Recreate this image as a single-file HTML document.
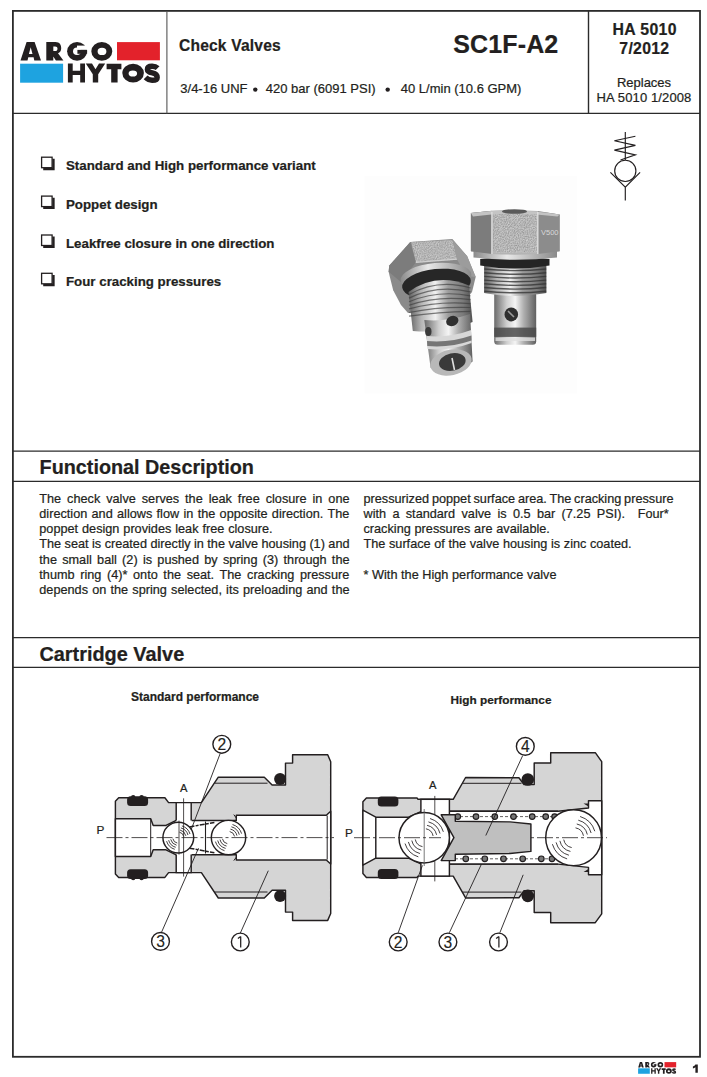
<!DOCTYPE html>
<html><head><meta charset="utf-8"><style>
html,body{margin:0;padding:0;background:#fff;}
body{width:707px;height:1077px;overflow:hidden;position:relative;}
svg{position:absolute;left:0;top:0;}
text{font-family:"Liberation Sans",sans-serif;fill:#231f20;stroke:#231f20;stroke-width:0.22px;}
.b{font-weight:bold;}
</style></head><body>
<svg width="707" height="1077" viewBox="0 0 707 1077">

<g fill="none" stroke="#2b2b2b">
<rect x="12.9" y="10.9" width="687.1" height="1045.9" stroke-width="1.8"/>
<line x1="12.9" y1="113.4" x2="700" y2="113.4" stroke-width="1.4"/>
<line x1="166.9" y1="10.9" x2="166.9" y2="113.4" stroke-width="1.1" stroke="#555"/>
<line x1="588.5" y1="10.9" x2="588.5" y2="113.4" stroke-width="1.4"/>
<line x1="12.9" y1="451.2" x2="700" y2="451.2" stroke-width="1.3"/>
<line x1="12.9" y1="481.4" x2="700" y2="481.4" stroke-width="1.3"/>
<line x1="12.9" y1="637.6" x2="700" y2="637.6" stroke-width="1.3"/>
<line x1="12.9" y1="667.3" x2="700" y2="667.3" stroke-width="1.3"/>
</g>
<text class="b" x="179" y="51" font-size="15.6" letter-spacing="0.18">Check Valves</text>
<text class="b" x="453.2" y="53" font-size="25" letter-spacing="0.15">SC1F-A2</text>
<text x="180.3" y="93.3" font-size="13">3/4-16 UNF</text>
<circle cx="255.3" cy="89.6" r="2.2" fill="#231f20"/>
<text x="265.8" y="93.3" font-size="13">420 bar (6091 PSI)</text>
<circle cx="387.7" cy="89.6" r="2.2" fill="#231f20"/>
<text x="400.8" y="93.3" font-size="13">40 L/min (10.6 GPM)</text>
<text class="b" x="644.7" y="34.8" font-size="15.8" text-anchor="middle" letter-spacing="0.35">HA 5010</text>
<text class="b" x="644.4" y="53.6" font-size="15.8" text-anchor="middle" letter-spacing="0.3">7/2012</text>
<text x="644" y="86.9" font-size="13" text-anchor="middle">Replaces</text>
<text x="644" y="102.4" font-size="13" text-anchor="middle" letter-spacing="0.12">HA 5010 1/2008</text>
<text class="b" x="66" y="169.90" font-size="13.3">Standard and High performance variant</text>
<g fill="none" stroke="#231f20"><rect x="41.60" y="157.20" width="10.5" height="10.5" stroke-width="1.3"/><path d="M43.20 169.00 H53.50 V158.80" stroke-width="2.3"/></g>
<text class="b" x="66" y="208.80" font-size="13.3">Poppet design</text>
<g fill="none" stroke="#231f20"><rect x="41.60" y="196.10" width="10.5" height="10.5" stroke-width="1.3"/><path d="M43.20 207.90 H53.50 V197.70" stroke-width="2.3"/></g>
<text class="b" x="66" y="247.70" font-size="13.3">Leakfree closure in one direction</text>
<g fill="none" stroke="#231f20"><rect x="41.60" y="235.00" width="10.5" height="10.5" stroke-width="1.3"/><path d="M43.20 246.80 H53.50 V236.60" stroke-width="2.3"/></g>
<text class="b" x="66" y="286.00" font-size="13.3">Four cracking pressures</text>
<g fill="none" stroke="#231f20"><rect x="41.60" y="273.30" width="10.5" height="10.5" stroke-width="1.3"/><path d="M43.20 285.10 H53.50 V274.90" stroke-width="2.3"/></g>
<text class="b" x="39.6" y="474" font-size="19.8">Functional Description</text>
<text class="b" x="39.4" y="661" font-size="19.9">Cartridge Valve</text>
<g font-size="12.7">
<text x="39.3" y="502.70" word-spacing="2.418" xml:space="preserve">The check valve serves the leak free closure in one</text>
<text x="39.3" y="517.90" word-spacing="0.779" xml:space="preserve">direction and allows flow in the opposite direction. The</text>
<text x="39.3" y="533.10" word-spacing="0.4">poppet design provides leak free closure.</text>
<text x="39.3" y="548.30" word-spacing="-0.081" xml:space="preserve">The seat is created directly in the valve housing (1) and</text>
<text x="39.3" y="563.50" word-spacing="1.753" xml:space="preserve">the small ball (2) is pushed by spring (3) through the</text>
<text x="39.3" y="578.70" word-spacing="2.104" xml:space="preserve">thumb ring (4)* onto the seat. The cracking pressure</text>
<text x="39.3" y="593.90" word-spacing="0.685" xml:space="preserve">depends on the spring selected, its preloading and the</text>
<text x="363.5" y="502.70" word-spacing="-0.722" xml:space="preserve">pressurized poppet surface area. The cracking pressure</text>
<text x="363.5" y="517.90" word-spacing="2.806" xml:space="preserve">with a standard valve is 0.5 bar (7.25 PSI).  Four*</text>
<text x="363.5" y="533.10" word-spacing="0.3">cracking pressures are available.</text>
<text x="363.5" y="548.30" word-spacing="0.1">The surface of the valve housing is zinc coated.</text>
<text x="363.5" y="578.70" word-spacing="0.1">* With the High performance valve</text>
</g>
<text class="b" x="131" y="700.8" font-size="12">Standard performance</text>
<text class="b" x="450.5" y="703.9" font-size="11.8">High performance</text>
<path d="M695.4 1064.4 H697.8 V1072.8 H695.4 V1067.3 Q694.3 1068.2 692.9 1068.4 V1066.6 Q694.8 1065.9 695.4 1064.4 Z" fill="#231f20"/>
<g id="logo">
<rect x="117" y="42.1" width="42.9" height="18.2" fill="#e3222b"/>
<rect x="20.1" y="63.7" width="43" height="19" fill="#1ea3e0"/>
<g fill="#231f20">
<path fill-rule="evenodd" d="M20.5 60.6 L26.6 42.1 H34.6 L41 60.6 H34.3 L33.6 57.3 H28.3 L27.5 60.6 Z M28.9 54 L30.7 47.3 L32.5 54 Z"/>
<path d="M46.3 60.6 V42.1 H55.5 C59.6 42.1 61.2 44.9 61.2 48.2 C61.2 50.7 60 52.5 58 53.3 L63.4 60.6 H55.9 L51.8 54.3 H53.3 V60.6 Z"/>
<path fill="#fff" d="M53.3 46.6 H55.1 C56.6 46.6 57.5 47.4 57.5 48.8 C57.5 50.2 56.6 51.1 55.1 51.1 H53.3 Z"/>
<ellipse cx="77.05" cy="51.3" rx="9.95" ry="9.35"/>
<ellipse cx="77" cy="51.2" rx="4" ry="3.8" fill="#fff"/>
<rect x="77" y="45.6" width="11" height="4.3" fill="#fff"/>
<rect x="77.4" y="49.9" width="9.7" height="3.9"/>
<path fill-rule="evenodd" d="M112.3 51.3 A10.5 9.35 0 1 1 91.3 51.3 A10.5 9.35 0 1 1 112.3 51.3 Z M106.4 51.4 A4.4 3.6 0 1 0 97.6 51.4 A4.4 3.6 0 1 0 106.4 51.4 Z"/>
<path d="M67.9 63.6 H72.7 V70.7 H80.2 V63.6 H85 V82.6 H80.2 V75 H72.7 V82.6 H67.9 Z"/>
<path d="M85.8 63.6 H92 L95.5 69.3 L99 63.6 H105.2 L98.2 74.3 V82.6 H92.8 V74.3 Z"/>
<path d="M106.6 63.7 H121.4 V69.2 H117.6 V82.6 H111.2 V69.2 H106.6 Z"/>
<path fill-rule="evenodd" d="M143.9 73.1 A10.8 9.45 0 1 1 122.3 73.1 A10.8 9.45 0 1 1 143.9 73.1 Z M137.1 73.5 A4.25 3.1 0 1 0 128.6 73.5 A4.25 3.1 0 1 0 137.1 73.5 Z"/>
</g>
<path fill="none" stroke="#231f20" stroke-width="5.4" d="M157.6 68.2 C156 66.6 154.3 66.2 152.1 66.2 C149.2 66.2 147.4 67.4 147.4 69.4 C147.4 71.7 149.6 72.3 152.4 72.9 C155.5 73.6 157.2 74.8 157.2 77.4 C157.2 79.4 155.3 80.2 152.1 80.2 C149.6 80.2 147.6 79.4 145.6 77.4"/>
</g>
<g transform="translate(632.62 1050.00) scale(0.2724 0.2875)"><g>
<rect x="117" y="42.1" width="42.9" height="18.2" fill="#e3222b"/>
<rect x="20.1" y="63.7" width="43" height="19" fill="#1ea3e0"/>
<g fill="#231f20">
<path fill-rule="evenodd" d="M20.5 60.6 L26.6 42.1 H34.6 L41 60.6 H34.3 L33.6 57.3 H28.3 L27.5 60.6 Z M28.9 54 L30.7 47.3 L32.5 54 Z"/>
<path d="M46.3 60.6 V42.1 H55.5 C59.6 42.1 61.2 44.9 61.2 48.2 C61.2 50.7 60 52.5 58 53.3 L63.4 60.6 H55.9 L51.8 54.3 H53.3 V60.6 Z"/>
<path fill="#fff" d="M53.3 46.6 H55.1 C56.6 46.6 57.5 47.4 57.5 48.8 C57.5 50.2 56.6 51.1 55.1 51.1 H53.3 Z"/>
<ellipse cx="77.05" cy="51.3" rx="9.95" ry="9.35"/>
<ellipse cx="77" cy="51.2" rx="4" ry="3.8" fill="#fff"/>
<rect x="77" y="45.6" width="11" height="4.3" fill="#fff"/>
<rect x="77.4" y="49.9" width="9.7" height="3.9"/>
<path fill-rule="evenodd" d="M112.3 51.3 A10.5 9.35 0 1 1 91.3 51.3 A10.5 9.35 0 1 1 112.3 51.3 Z M106.4 51.4 A4.4 3.6 0 1 0 97.6 51.4 A4.4 3.6 0 1 0 106.4 51.4 Z"/>
<path d="M67.9 63.6 H72.7 V70.7 H80.2 V63.6 H85 V82.6 H80.2 V75 H72.7 V82.6 H67.9 Z"/>
<path d="M85.8 63.6 H92 L95.5 69.3 L99 63.6 H105.2 L98.2 74.3 V82.6 H92.8 V74.3 Z"/>
<path d="M106.6 63.7 H121.4 V69.2 H117.6 V82.6 H111.2 V69.2 H106.6 Z"/>
<path fill-rule="evenodd" d="M143.9 73.1 A10.8 9.45 0 1 1 122.3 73.1 A10.8 9.45 0 1 1 143.9 73.1 Z M137.1 73.5 A4.25 3.1 0 1 0 128.6 73.5 A4.25 3.1 0 1 0 137.1 73.5 Z"/>
</g>
<path fill="none" stroke="#231f20" stroke-width="5.4" d="M157.6 68.2 C156 66.6 154.3 66.2 152.1 66.2 C149.2 66.2 147.4 67.4 147.4 69.4 C147.4 71.7 149.6 72.3 152.4 72.9 C155.5 73.6 157.2 74.8 157.2 77.4 C157.2 79.4 155.3 80.2 152.1 80.2 C149.6 80.2 147.6 79.4 145.6 77.4"/>
</g></g>
<g fill="none" stroke="#231f20" stroke-width="1.15"><path d="M625.3 132 V160"/><path d="M635.4 136.2 L614.4 140.7 L635.4 145.4 L614.4 150.1 L635.4 154.9 L620.5 160"/><circle cx="625.3" cy="170.9" r="10.6"/><path d="M610.4 172.3 L625.3 187.1 L640.1 172.3 M625.3 187.1 V200.6"/></g>
<polygon points="115.4,837.6 115.4,801.3 118.7,797.8 164.9,797.8 168.6,802.6 176.2,802.6 191.7,802.6 201.4,802.6 218.3,777.2 264.3,777.2 272.1,784.9 285.5,784.9 285.5,763.1 292.6,763.1 292.6,754.8 327.7,754.8 330.7,761.7 330.7,837.6 330.7,837.6 330.7,913.5 327.7,920.4 292.6,920.4 292.6,912.1 285.5,912.1 285.5,890.3 272.1,890.3 264.3,898.0 218.3,898.0 201.4,872.6 191.7,872.6 176.2,872.6 168.6,872.6 164.9,877.4 118.7,877.4 115.4,873.9 115.4,837.6" fill="#d5d5d5" stroke="#231f20" stroke-width="1.45" stroke-linejoin="round"/>
<line x1="214.6" y1="783.2" x2="267.5" y2="783.2" stroke="#231f20" stroke-width="1"/>
<line x1="214.6" y1="892.0" x2="267.5" y2="892.0" stroke="#231f20" stroke-width="1"/>
<polygon points="115.4,818.7 150.7,818.7 153.2,825.4 166.0,825.4 176.2,820.4 236.3,820.4 236.3,815.2 326.3,815.2 330.7,811.2 330.7,837.6 330.7,837.6 330.7,864.0 326.3,860.0 236.3,860.0 236.3,854.8 176.2,854.8 166.0,849.8 153.2,849.8 150.7,856.5 115.4,856.5" fill="#fff" stroke="#231f20" stroke-width="1.45" stroke-linejoin="round"/>
<path d="M233.8 814.6 L236.3 818 M233.8 860.6 L236.3 857.2" stroke="#231f20" stroke-width="1"/>
<rect x="176.2" y="802.6" width="15.5" height="70.0" fill="#fff"/>
<path d="M176.2 820.6 V802.6 H191.2 V820.6 M176.2 854.6 V872.6 H191.2 V854.6" fill="none" stroke="#231f20" stroke-width="1.45"/>
<line x1="327.2" y1="815.6" x2="327.2" y2="859.6" stroke="#231f20" stroke-width="1"/>
<line x1="150.7" y1="818.7" x2="150.7" y2="856.5" stroke="#231f20" stroke-width="1"/>
<line x1="205.5" y1="821.5" x2="205.5" y2="853.5" stroke="#231f20" stroke-width="1.1"/>
<path d="M189.5 827 L214.4 822.4 M189.5 848.2 L214.4 852.8" stroke="#231f20" stroke-width="1.5" stroke-dasharray="5 1.2 3 1.2"/>
<circle cx="178.3" cy="837.6" r="15.4" fill="#fff" stroke="#231f20" stroke-width="1.45"/>
<path d="M183.74 836.54 A5.54 5.54 0 0 0 179.36 832.16 M185.88 835.85 A7.78 7.78 0 0 0 180.05 830.02 M187.97 835.01 A10.01 10.01 0 0 0 180.89 827.93 M190.01 834.02 A12.24 12.24 0 0 0 181.88 825.89" fill="none" stroke="#231f20" stroke-width="0.85"/>
<path d="M172.86 838.66 A5.54 5.54 0 0 0 177.24 843.04 M170.72 839.35 A7.78 7.78 0 0 0 176.55 845.18 M168.63 840.19 A10.01 10.01 0 0 0 175.71 847.27 M166.59 841.18 A12.24 12.24 0 0 0 174.72 849.31" fill="none" stroke="#231f20" stroke-width="0.85"/>
<line x1="179" y1="820.6" x2="179" y2="854.6" stroke="#231f20" stroke-width="0.8"/>
<circle cx="228.5" cy="837.6" r="17.2" fill="#fff" stroke="#231f20" stroke-width="1.45"/>
<path d="M234.58 836.42 A6.19 6.19 0 0 0 229.68 831.52 M236.96 835.65 A8.69 8.69 0 0 0 230.45 829.14 M239.30 834.71 A11.18 11.18 0 0 0 231.39 826.80 M241.58 833.60 A13.67 13.67 0 0 0 232.50 824.52" fill="none" stroke="#231f20" stroke-width="0.85"/>
<path d="M222.42 838.78 A6.19 6.19 0 0 0 227.32 843.68 M220.04 839.55 A8.69 8.69 0 0 0 226.55 846.06 M217.70 840.49 A11.18 11.18 0 0 0 225.61 848.40 M215.42 841.60 A13.67 13.67 0 0 0 224.50 850.68" fill="none" stroke="#231f20" stroke-width="0.85"/>
<line x1="183.6" y1="798.3" x2="183.6" y2="876.6" stroke="#231f20" stroke-width="0.8"/>
<line x1="106.5" y1="837.6" x2="334" y2="837.6" stroke="#231f20" stroke-width="0.8" stroke-dasharray="16 3 3 3"/>
<rect x="127.1" y="796.2" width="21" height="9.8" rx="3.5" fill="#231f20"/>
<circle cx="133.2" cy="797.1" r="2.2" fill="#231f20"/><circle cx="141.6" cy="797.1" r="2.2" fill="#231f20"/>
<rect x="127.1" y="869.2" width="21" height="9.8" rx="3.5" fill="#231f20"/>
<circle cx="133.2" cy="878.1" r="2.2" fill="#231f20"/><circle cx="141.6" cy="878.1" r="2.2" fill="#231f20"/>
<circle cx="280.1" cy="779.1" r="6" fill="#231f20"/>
<circle cx="280.1" cy="896.1" r="6" fill="#231f20"/>
<path d="M220.3 753.2 L191 830 M161.5 932.3 L198.5 848.2 M240.3 933.1 L268.3 870.7" stroke="#231f20" stroke-width="0.9" fill="none"/>
<circle cx="221.8" cy="744.3" r="8.9" fill="#fff" stroke="#231f20" stroke-width="1.4"/><text x="221.8" y="749.9" font-size="15.6" text-anchor="middle" style="font-weight:normal;stroke-width:0.15px">2</text>
<circle cx="160.5" cy="941.4" r="8.9" fill="#fff" stroke="#231f20" stroke-width="1.4"/><text x="160.5" y="947.0" font-size="15.6" text-anchor="middle" style="font-weight:normal;stroke-width:0.15px">3</text>
<circle cx="240.3" cy="942" r="8.9" fill="#fff" stroke="#231f20" stroke-width="1.4"/><path d="M240.7 936.4 V947.4 M237.9 938.6 L240.7 936.4" stroke="#231f20" stroke-width="1.25" fill="none"/>
<text x="96.6" y="833.8" font-size="11.8">P</text>
<text x="180" y="791.6" font-size="11.2">A</text>
<polygon points="362.9,837.7 362.9,801.8 366.4,797.9 417.0,797.9 418.0,799.3 420.9,799.3 449.4,799.3 453.2,799.3 465.6,777.5 518.9,777.7 524.0,784.6 534.2,784.6 534.2,762.9 550.7,762.9 550.7,752.7 595.3,752.7 601.7,761.6 601.7,837.7 601.7,837.7 601.7,913.8 595.3,922.7 550.7,922.7 550.7,912.5 534.2,912.5 534.2,890.8 524.0,890.8 518.9,897.7 465.6,897.9 453.2,876.1 449.4,876.1 420.9,876.1 418.0,876.1 417.0,877.5 366.4,877.5 362.9,873.6 362.9,837.7" fill="#d5d5d5" stroke="#231f20" stroke-width="1.45" stroke-linejoin="round"/>
<line x1="462.5" y1="783.3" x2="521.5" y2="783.3" stroke="#231f20" stroke-width="1"/>
<line x1="462.5" y1="892.1" x2="521.5" y2="892.1" stroke="#231f20" stroke-width="1"/>
<polygon points="362.9,810.2 375.8,817.2 408.5,817.2 421.4,811.3 558.0,811.3 588.5,808.0 588.5,800.7 601.7,800.7 601.7,837.7 601.7,837.7 601.7,874.7 588.5,874.7 588.5,867.4 558.0,864.1 421.4,864.1 408.5,858.2 375.8,858.2 362.9,865.2" fill="#fff" stroke="#231f20" stroke-width="1.45" stroke-linejoin="round"/>
<line x1="375.8" y1="817.2" x2="375.8" y2="858.2" stroke="#231f20" stroke-width="1.45"/>
<path d="M583.5 803.5 L588.5 806.5 L588.5 803.5 Z M583.5 871.9 L588.5 868.9 L588.5 871.9 Z" fill="#231f20"/>
<rect x="420.9" y="799.3" width="28.5" height="76.8" fill="#fff" stroke="#231f20" stroke-width="1.45"/>
<line x1="449.7" y1="811.3" x2="558" y2="811.3" stroke="#231f20" stroke-width="1.45"/>
<line x1="449.7" y1="864.1" x2="558" y2="864.1" stroke="#231f20" stroke-width="1.45"/>
<line x1="455" y1="816.6" x2="560" y2="816.6" stroke="#231f20" stroke-width="0.7" stroke-dasharray="3 2"/>
<line x1="455" y1="858.8" x2="560" y2="858.8" stroke="#231f20" stroke-width="0.7" stroke-dasharray="3 2"/>
<circle cx="457.8" cy="816.6" r="2.8" fill="#777" stroke="#231f20" stroke-width="1.2"/>
<circle cx="476" cy="816.6" r="2.8" fill="#777" stroke="#231f20" stroke-width="1.2"/>
<circle cx="494.8" cy="816.6" r="2.8" fill="#777" stroke="#231f20" stroke-width="1.2"/>
<circle cx="513.5" cy="816.6" r="2.8" fill="#777" stroke="#231f20" stroke-width="1.2"/>
<circle cx="532.2" cy="816.6" r="2.8" fill="#777" stroke="#231f20" stroke-width="1.2"/>
<circle cx="545.7" cy="816.6" r="2.8" fill="#777" stroke="#231f20" stroke-width="1.2"/>
<circle cx="554.6" cy="816.6" r="2.8" fill="#777" stroke="#231f20" stroke-width="1.2"/>
<circle cx="465.8" cy="858.8" r="2.8" fill="#777" stroke="#231f20" stroke-width="1.2"/>
<circle cx="484.8" cy="858.8" r="2.8" fill="#777" stroke="#231f20" stroke-width="1.2"/>
<circle cx="503.5" cy="858.8" r="2.8" fill="#777" stroke="#231f20" stroke-width="1.2"/>
<circle cx="522.7" cy="858.8" r="2.8" fill="#777" stroke="#231f20" stroke-width="1.2"/>
<circle cx="541.3" cy="858.8" r="2.8" fill="#777" stroke="#231f20" stroke-width="1.2"/>
<circle cx="552" cy="858.8" r="2.8" fill="#777" stroke="#231f20" stroke-width="1.2"/>
<line x1="434.8" y1="795.9" x2="434.8" y2="881.4" stroke="#231f20" stroke-width="0.8"/>
<polygon points="441.2,814.8 455.3,814.8 455.3,821.2 510.0,821.9 530.9,824.0 530.9,851.4 510.0,853.5 455.3,854.2 455.3,860.6 441.2,860.6 453.9,837.7" fill="#bfbfbf" stroke="#231f20" stroke-width="1.45" stroke-linejoin="round"/>
<circle cx="424.2" cy="837.7" r="25.2" fill="#fff" stroke="#231f20" stroke-width="1.45"/>
<path d="M433.11 835.97 A9.07 9.07 0 0 0 425.93 828.79 M436.60 834.84 A12.73 12.73 0 0 0 427.06 825.30 M440.02 833.46 A16.38 16.38 0 0 0 428.44 821.88 M443.36 831.84 A20.03 20.03 0 0 0 430.06 818.54" fill="none" stroke="#231f20" stroke-width="0.85"/>
<path d="M415.29 839.43 A9.07 9.07 0 0 0 422.47 846.61 M411.80 840.56 A12.73 12.73 0 0 0 421.34 850.10 M408.38 841.94 A16.38 16.38 0 0 0 419.96 853.52 M405.04 843.56 A20.03 20.03 0 0 0 418.34 856.86" fill="none" stroke="#231f20" stroke-width="0.85"/>
<line x1="424.2" y1="809" x2="424.2" y2="866" stroke="#555" stroke-width="0.8"/>
<circle cx="573.6" cy="837.7" r="27.9" fill="#fff" stroke="#231f20" stroke-width="1.45"/>
<path d="M583.46 835.78 A10.04 10.04 0 0 0 575.52 827.84 M587.33 834.53 A14.09 14.09 0 0 0 576.77 823.97 M591.12 833.01 A18.13 18.13 0 0 0 578.29 820.18 M594.81 831.22 A22.18 22.18 0 0 0 580.08 816.49" fill="none" stroke="#231f20" stroke-width="0.85"/>
<path d="M563.74 839.62 A10.04 10.04 0 0 0 571.68 847.56 M559.87 840.87 A14.09 14.09 0 0 0 570.43 851.43 M556.08 842.39 A18.13 18.13 0 0 0 568.91 855.22 M552.39 844.18 A22.18 22.18 0 0 0 567.12 858.91" fill="none" stroke="#231f20" stroke-width="0.85"/>
<line x1="354" y1="837.7" x2="441" y2="837.7" stroke="#231f20" stroke-width="0.8" stroke-dasharray="16 3 3 3"/>
<line x1="531" y1="837.7" x2="607" y2="837.7" stroke="#231f20" stroke-width="0.8" stroke-dasharray="3 3 16 3"/>
<rect x="377.8" y="796.4" width="20.6" height="10" rx="3.5" fill="#231f20"/>
<rect x="377.8" y="869.0" width="20.6" height="10" rx="3.5" fill="#231f20"/>
<circle cx="527.8" cy="779.5" r="6.3" fill="#231f20"/>
<circle cx="527.8" cy="895.9" r="6.3" fill="#231f20"/>
<path d="M522.7 755.6 L485.8 835.5 M398.2 932.8 L422.4 865.4 M449.3 932.8 L481.5 864 M499.8 932.8 L523.2 874.8" stroke="#231f20" stroke-width="0.9" fill="none"/>
<circle cx="525.3" cy="746.4" r="8.9" fill="#fff" stroke="#231f20" stroke-width="1.4"/><text x="525.3" y="752.0" font-size="15.6" text-anchor="middle" style="font-weight:normal;stroke-width:0.15px">4</text>
<circle cx="398.2" cy="942" r="8.9" fill="#fff" stroke="#231f20" stroke-width="1.4"/><text x="398.2" y="947.6" font-size="15.6" text-anchor="middle" style="font-weight:normal;stroke-width:0.15px">2</text>
<circle cx="447.9" cy="942" r="8.9" fill="#fff" stroke="#231f20" stroke-width="1.4"/><text x="447.9" y="947.6" font-size="15.6" text-anchor="middle" style="font-weight:normal;stroke-width:0.15px">3</text>
<circle cx="498.5" cy="942" r="8.9" fill="#fff" stroke="#231f20" stroke-width="1.4"/><path d="M498.9 936.4 V947.4 M496.1 938.6 L498.9 936.4" stroke="#231f20" stroke-width="1.25" fill="none"/>
<text x="345" y="837.3" font-size="11.8">P</text>
<text x="429" y="788.5" font-size="11.2">A</text>
<defs>
<linearGradient id="mh" x1="0" x2="1" y1="0" y2="0">
 <stop offset="0" stop-color="#5e5e5e"/><stop offset="0.2" stop-color="#b5b5b5"/><stop offset="0.42" stop-color="#f0f0f0"/>
 <stop offset="0.62" stop-color="#9c9c9c"/><stop offset="0.85" stop-color="#7a7a7a"/><stop offset="1" stop-color="#505050"/></linearGradient>
<linearGradient id="nose" x1="0" x2="1" y1="0" y2="0">
 <stop offset="0" stop-color="#6a6a6a"/><stop offset="0.3" stop-color="#cfcfcf"/><stop offset="0.5" stop-color="#f4f4f4"/>
 <stop offset="0.7" stop-color="#b0b0b0"/><stop offset="1" stop-color="#606060"/></linearGradient>
<linearGradient id="collar" x1="0" x2="1" y1="0" y2="0">
 <stop offset="0" stop-color="#8a8a8a"/><stop offset="0.4" stop-color="#e8e8e8"/><stop offset="1" stop-color="#8a8a8a"/></linearGradient>
<filter id="grain" x="0" y="0" width="100%" height="100%">
 <feTurbulence type="fractalNoise" baseFrequency="0.9" numOctaves="2" seed="3" result="n"/>
 <feColorMatrix in="n" type="matrix" values="0 0 0 0 0  0 0 0 0 0  0 0 0 0 0  0 0 0 1.6 -0.55" result="a"/>
 <feComposite in="SourceGraphic" in2="a" operator="in"/>
</filter>
</defs>
<rect x="364.4" y="175.7" width="212.6" height="217.8" fill="#fdfdfd"/>
<g><rect x="494.2" y="292" width="42" height="52.7" rx="3.5" fill="url(#nose)"/><rect x="494.2" y="327.6" width="42" height="9.3" fill="#4a4a4a" opacity="0.85"/><rect x="495.5" y="337.5" width="39.5" height="3.5" fill="#e0e0e0" opacity="0.8"/><ellipse cx="511.3" cy="314.4" rx="6.8" ry="7" fill="#2e2e2e"/><path d="M508 311 L514 317" stroke="#999" stroke-width="1.6"/><path d="M484.1 266 H546.4 V293 Q515 299 484.1 293 Z" fill="url(#mh)"/><path d="M484.3 269.0 Q515 272.2 546.2 269.0" stroke="#363636" stroke-width="1.4" fill="none" opacity="0.8"/><path d="M484.3 272.7 Q515 275.9 546.2 272.7" stroke="#363636" stroke-width="1.4" fill="none" opacity="0.8"/><path d="M484.3 276.4 Q515 279.6 546.2 276.4" stroke="#363636" stroke-width="1.4" fill="none" opacity="0.8"/><path d="M484.3 280.1 Q515 283.3 546.2 280.1" stroke="#363636" stroke-width="1.4" fill="none" opacity="0.8"/><path d="M484.3 283.8 Q515 287.0 546.2 283.8" stroke="#363636" stroke-width="1.4" fill="none" opacity="0.8"/><path d="M484.3 287.5 Q515 290.7 546.2 287.5" stroke="#363636" stroke-width="1.4" fill="none" opacity="0.8"/><path d="M484.3 291.2 Q515 294.4 546.2 291.2" stroke="#363636" stroke-width="1.4" fill="none" opacity="0.8"/><path d="M480.2 259 Q515 255 549.5 259 V265.5 Q515 271.5 480.2 265.5 Z" fill="#242424"/><path d="M473.5 250 H557 V257.5 Q515 262 473.5 257.5 Z" fill="url(#collar)"/><path d="M470.9 213 Q515 207.5 559.6 214.5 V251.3 Q515 255.5 470.9 251.3 Z" fill="#8e8e8e"/><path d="M470.9 213 L491.9 210.8 V254 L470.9 251.3 Z" fill="#7c7c7c"/><path d="M491.9 210.8 Q515 209.5 537.8 211 V254 Q515 255.3 491.9 254 Z" fill="#b4b4b4"/><rect x="493" y="213" width="43.5" height="39" fill="#6a6a6a" filter="url(#grain)" opacity="0.55"/><rect x="493" y="213" width="43.5" height="39" fill="#ffffff" filter="url(#grain)" opacity="0.5" transform="translate(0.6 0.6)"/><path d="M537.8 211 L559.6 214.5 V251.3 L537.8 254 Z" fill="#8c8c8c"/><path d="M470.9 213 Q515 207.5 559.6 214.5 L557.5 216.5 Q515 211 473 216.5 Z" fill="#c4c4c4"/><ellipse cx="514.5" cy="211.5" rx="12.5" ry="2.3" fill="#5a5a5a"/><path d="M491.9 212 V254 M537.8 212 V254" stroke="#dedede" stroke-width="1.4"/><text x="541" y="235" font-size="7.5" style="fill:#d8d8d8;stroke:none">V500</text></g>
<g><path d="M410.3 242.1 L452.4 239 L467.1 256.1 L475.7 277.1 L472 292 L462 305 L408 313 L401 305 L393.2 290.3 L388.6 271.7 L389.3 265.5 Z" fill="#8a8a8a"/><path d="M411.1 242.1 L452.4 239.8 L457 259.2 L415.8 262.3 Z" fill="#b4b4b4"/><path d="M411.1 242.1 L452.4 239.8 L457 259.2 L415.8 262.3 Z" fill="#6a6a6a" filter="url(#grain)" opacity="0.5"/><path d="M411.1 242.1 L452.4 239.8 L457 259.2 L415.8 262.3 Z" fill="#ffffff" filter="url(#grain)" opacity="0.45" transform="translate(0.6 0.6)"/><path d="M410.3 242.1 L415.8 262.3 L401 282 L388.6 271.7 L389.3 265.5 Z" fill="#7c7c7c"/><path d="M452.4 239.8 L467.1 256.1 L475.7 277.1 L466 276 L457 259.2 Z" fill="#9c9c9c"/><path d="M415.8 262.3 L457 259.2" stroke="#d0d0d0" stroke-width="1.2"/><ellipse cx="436" cy="277.5" rx="35.5" ry="14.5" transform="rotate(-5 436 277.5)" fill="url(#collar)"/><ellipse cx="436.5" cy="284" rx="34.5" ry="15" transform="rotate(-6 436.5 284)" fill="#272727"/><path d="M408.5 292 Q436 272 469 285.5 L472.6 322 Q445 334 412.8 331 Z" fill="url(#mh)"/><path d="M409 294.5 Q438 278.5 470.5 288.0" stroke="#3c3c3c" stroke-width="1.2" fill="none" opacity="0.65"/><path d="M409 298.1 Q438 284.1 470.5 291.9" stroke="#3c3c3c" stroke-width="1.2" fill="none" opacity="0.65"/><path d="M409 301.7 Q438 289.7 470.5 295.8" stroke="#3c3c3c" stroke-width="1.2" fill="none" opacity="0.65"/><path d="M409 305.3 Q438 295.3 470.5 299.7" stroke="#3c3c3c" stroke-width="1.2" fill="none" opacity="0.65"/><path d="M409 308.9 Q438 300.9 470.5 303.6" stroke="#3c3c3c" stroke-width="1.2" fill="none" opacity="0.65"/><path d="M409 312.5 Q438 306.5 470.5 307.5" stroke="#3c3c3c" stroke-width="1.2" fill="none" opacity="0.65"/><path d="M409 316.1 Q438 312.1 470.5 311.4" stroke="#3c3c3c" stroke-width="1.2" fill="none" opacity="0.65"/><path d="M424.3 320 Q447 322 470.1 314 L472.6 361.5 Q455 376 430.6 368 Z" fill="url(#nose)"/><path d="M426.5 336 Q450 338 471.2 330 L471.6 343 Q450 351 427.5 349 Z" fill="#d8d8d8"/><path d="M427 341 Q450 343 471.4 335.5 L471.5 340.5 Q450 348 427.3 346 Z" fill="#555" opacity="0.75"/><ellipse cx="451" cy="362.5" rx="21" ry="12.7" transform="rotate(-12 451 362.5)" fill="#b8b8b8"/><ellipse cx="452.3" cy="362" rx="13.5" ry="8.8" transform="rotate(-12 452.3 362)" fill="#3a3a3a"/><path d="M452 358 L454.5 370" stroke="#e0e0e0" stroke-width="1.6"/><ellipse cx="452.3" cy="321" rx="6.3" ry="5" transform="rotate(-20 452.3 321)" fill="#2f2f2f"/><ellipse cx="428.3" cy="331.5" rx="3.2" ry="4.5" fill="#3a3a3a"/></g>

</svg></body></html>
